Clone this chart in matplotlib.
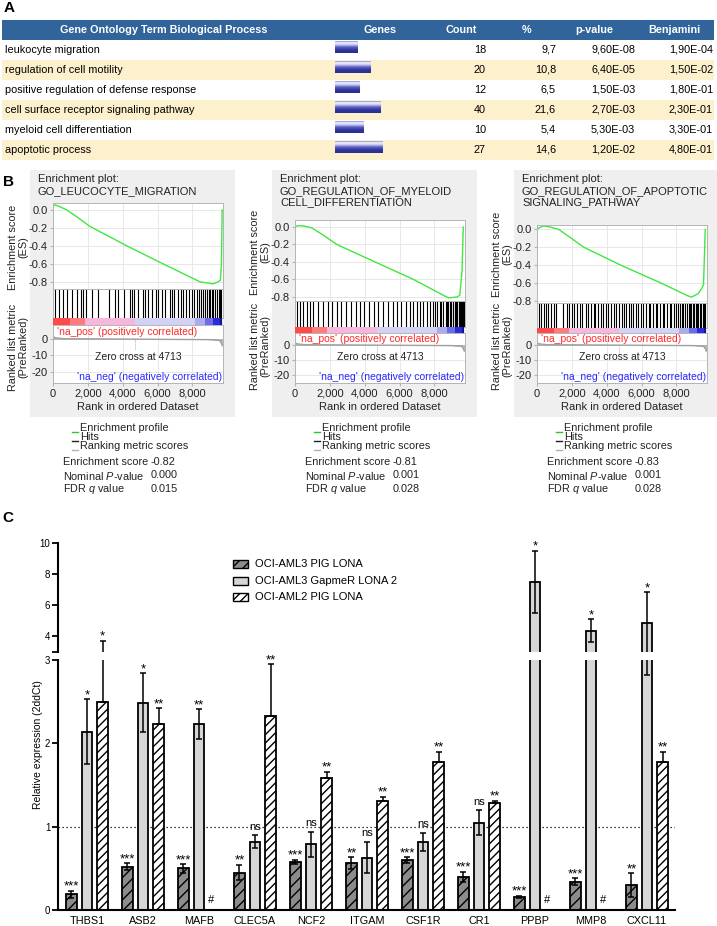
import numpy as np
import matplotlib
matplotlib.use('Agg')
import matplotlib.pyplot as plt
from matplotlib.patches import Rectangle
from matplotlib.colors import LinearSegmentedColormap
from matplotlib.ticker import FuncFormatter

W, H = 717, 926
SANS = ['Liberation Sans', 'DejaVu Sans']
plt.rcParams['font.family'] = SANS
plt.rcParams['axes.unicode_minus'] = False
plt.rcParams['mathtext.fontset'] = 'custom'
plt.rcParams['mathtext.it'] = 'Liberation Sans:italic'
plt.rcParams['mathtext.rm'] = 'Liberation Sans'
plt.rcParams['hatch.linewidth'] = 1.0

# ---------------- Panel A data ----------------
table_headers = ['Gene Ontology Term Biological Process', 'Genes', 'Count', '%', 'p-value', 'Benjamini']
go_terms = ['leukocyte migration', 'regulation of cell motility', 'positive regulation of defense response',
            'cell surface receptor signaling pathway', 'myeloid cell differentiation', 'apoptotic process']
go_count = [18, 20, 12, 40, 10, 27]
go_percent = ['9,7', '10,8', '6,5', '21,6', '5,4', '14,6']
go_pvalue = ['9,60E-08', '6,40E-05', '1,50E-03', '2,70E-03', '5,30E-03', '1,20E-02']
go_benjamini = ['1,90E-04', '1,50E-02', '1,80E-01', '2,30E-01', '3,30E-01', '4,80E-01']
go_gene_bar = [0.46, 0.75, 0.52, 0.94, 0.60, 1.00]

# ---------------- Panel B data ----------------
gsea_titles = ['GO_LEUCOCYTE_MIGRATION', 'GO_REGULATION_OF_MYELOID\nCELL_DIFFERENTIATION',
               'GO_REGULATION_OF_APOPTOTIC\nSIGNALING_PATHWAY']
es_rank = [
    [0, 40, 300, 800, 1400, 2100, 4250, 6330, 8450, 9000, 9200, 9450, 9600, 9660, 9700],
    [0, 150, 500, 960, 1600, 2400, 4600, 6800, 8500, 8800, 9300, 9450, 9580, 9650],
    [0, 150, 390, 700, 1250, 1900, 2690, 4800, 7100, 8600, 8850, 9250, 9450, 9550, 9650],
]
es_value = [
    [0.0, 0.06, 0.045, 0.0, -0.08, -0.18, -0.4, -0.6, -0.8, -0.815, -0.82, -0.8, -0.78, -0.6, 0.0],
    [0.0, 0.015, 0.012, -0.01, -0.09, -0.2, -0.4, -0.6, -0.78, -0.81, -0.80, -0.78, -0.5, 0.0],
    [0.0, 0.02, 0.04, 0.03, 0.0, -0.09, -0.2, -0.4, -0.6, -0.74, -0.76, -0.72, -0.66, -0.62, 0.0],
]
hits = [
    [120, 330, 560, 790, 1080, 1380, 1600, 1720, 1900, 2250, 2600, 3200, 3550, 3700, 4100, 4400,
     4550, 4650, 4850, 5150, 5300, 5450, 5700, 5900, 6050, 6250, 6450, 6700, 6850, 6950, 7150,
     7350, 7450, 7600, 7800, 7950, 8100, 8250, 8400, 8480, 8600, 8700, 8850, 8920, 9000,
     9120, 9180, 9300, 9400, 9500, 9600, 9650],
    [135, 290, 480, 675, 870, 1060, 1300, 1600, 1880, 2130, 2420, 2610, 2900, 3190, 3480, 3735,
     3970, 4260, 4510, 4740, 5030, 5320, 5610, 5870, 6100, 6390, 6580, 6770, 6970, 7160, 7350,
     7550, 7740, 7930, 8050, 8130, 8320, 8400, 8510, 8650, 8700, 8800, 8880, 8960, 9040, 9090,
     9190, 9240, 9290, 9380, 9430, 9480, 9530, 9580, 9620, 9670],
    [100, 250, 400, 520, 650, 800, 950, 1100, 1500, 1700, 1850, 2000, 2150, 2300, 2450, 2600,
     2800, 2950, 3100, 3250, 3350, 3500, 3650, 3800, 3950, 4100, 4250, 4400, 4550, 4700, 4850,
     5000, 5100, 5250, 5400, 5500, 5650, 5800, 5950, 6100, 6250, 6400, 6500, 6650, 6800, 6900,
     7050, 7200, 7300, 7450, 7600, 7700, 7850, 8000, 8100, 8200, 8300, 8400, 8500, 8600, 8700,
     8780, 8860, 8940, 9020, 9100, 9180, 9260, 9340, 9420, 9500, 9580, 9650],
]
rank_x = [0, 150, 600, 4713, 9000, 9550, 9650, 9700]
rank_y = [1.5, 0.8, 0.3, 0.0, -0.3, -0.8, -2.5, -4.0]
zero_cross = 4713
cbar_edges = [0, 960, 1820, 4713, 8140, 8700, 9200, 9600, 9700]
cbar_colors = ['#ff4a4a', '#ff7a7a', '#f7b6dc', '#d2d2f6', '#ababf0', '#6c6cea', '#2d2dd8', '#12129c']
stat_names = ['Enrichment score', 'Nominal $\\mathit{P}$-value', 'FDR $\\mathit{q}$ value']
stat_values = [['-0.82', '0.000', '0.015'], ['-0.81', '0.001', '0.028'], ['-0.83', '0.001', '0.028']]
legend_names = ['Enrichment profile', 'Hits', 'Ranking metric scores']

# ---------------- Panel C data ----------------
genes = ['THBS1', 'ASB2', 'MAFB', 'CLEC5A', 'NCF2', 'ITGAM', 'CSF1R', 'CR1', 'PPBP', 'MMP8', 'CXCL11']
series_names = ['OCI-AML3 PIG LONA', 'OCI-AML3 GapmeR LONA 2', 'OCI-AML2 PIG LONA']
pig3 = [0.19, 0.52, 0.50, 0.45, 0.58, 0.565, 0.60, 0.40, 0.155, 0.34, 0.30]
pig3_err = [0.04, 0.04, 0.05, 0.09, 0.025, 0.07, 0.035, 0.06, 0.015, 0.04, 0.14]
pig3_sig = ['***', '***', '***', '**', '***', '**', '***', '***', '***', '***', '**']
gap3 = [2.14, 2.49, 2.23, 0.82, 0.79, 0.63, 0.82, 1.05, 7.5, 4.33, 4.82]
gap3_err = [0.39, 0.35, 0.18, 0.08, 0.15, 0.19, 0.11, 0.15, 2.0, 0.74, 2.0]
gap3_sig = ['*', '*', '**', 'ns', 'ns', 'ns', 'ns', 'ns', '*', '*', '*']
pig2 = [2.50, 2.23, np.nan, 2.33, 1.58, 1.31, 1.78, 1.28, np.nan, np.nan, 1.78]
pig2_err = [1.18, 0.19, np.nan, 0.62, 0.08, 0.05, 0.12, 0.03, np.nan, np.nan, 0.12]
pig2_sig = ['*', '**', '#', '**', '**', '**', '**', '**', '#', '#', '**']

# ======================================================================
fig = plt.figure(figsize=(W / 100, H / 100), dpi=100)


def box(x0, y0, x1, y1):
    return [x0 / W, 1 - y1 / H, (x1 - x0) / W, (y1 - y0) / H]


def ftext(xp, yp, s, **kw):
    return fig.text(xp / W, 1 - yp / H, s, **kw)


bg = fig.add_axes([0, 0, 1, 1], zorder=0)
bg.set_xlim(0, W)
bg.set_ylim(H, 0)
bg.axis('off')

# ---------------- Panel A ----------------
bg.text(9, 8, 'A', fontsize=11, fontweight='bold', ha='center', va='center')
hdr_top, hdr_h, row_h = 20, 20, 20
bg.add_patch(Rectangle((2, hdr_top), 712, hdr_h, fc='#30649a', ec='none'))
col_x = [164, 380, 461, 527, 594, 674]
for cx, h in zip(col_x, table_headers):
    bg.text(cx, hdr_top + hdr_h / 2, h, color='white', fontweight='bold', ha='center', va='center',
            fontsize=7.8)
grad_cmap = LinearSegmentedColormap.from_list(
    'g', [(0, '#8a8fd8'), (0.12, '#f4f4fc'), (0.3, '#c9cbf0'), (0.5, '#5a60c4'), (0.75, '#2e3499'), (1, '#2a3090')])
grad = np.linspace(0, 1, 32).reshape(-1, 1)
for i, term in enumerate(go_terms):
    y0 = hdr_top + hdr_h + i * row_h
    if i % 2 == 1:
        bg.add_patch(Rectangle((2, y0), 712, row_h, fc='#fdf0cd', ec='none', zorder=1))
    yc = y0 + row_h / 2
    bg.text(5, yc, term, ha='left', va='center', fontsize=7.8)
    bg.imshow(grad, extent=(335, 335 + go_gene_bar[i] * 48, y0 + 13, y0 + 1), cmap=grad_cmap,
              aspect='auto', interpolation='bilinear', zorder=3)
    bg.text(486, yc, str(go_count[i]), ha='right', va='center', fontsize=7.8)
    bg.text(556, yc, go_percent[i], ha='right', va='center', fontsize=7.8)
    bg.text(635, yc, go_pvalue[i], ha='right', va='center', fontsize=7.8)
    bg.text(713, yc, go_benjamini[i], ha='right', va='center', fontsize=7.8)
bg.set_xlim(0, W)
bg.set_ylim(H, 0)

# ---------------- Panel B ----------------
bg.text(9, 182, 'B', fontsize=11, fontweight='bold', ha='center', va='center')
axL = [53, 295, 537]
axW = 170
es_top = [203, 220, 225]
es_bot = [289, 301, 303]
hit_bot = [318, 327, 328]
cb_bot = [325, 333, 333]
rk_bot = 383
es_lims = [(-0.878, 0.078), (-0.846, 0.08), (-0.825, 0.05)]
rk_lims = [(-26.7, 8.5), (-25.3, 8.0), (-25.3, 8.0)]
napos_y = [332, 339, 339]
es_lab_y = [247, 252, 254]
rk_lab_y = [347, 346, 346]
XMAX = 9750
GRID = '#e4e4e4'
SP = '#b5b5b5'
TXT = '#222222'
for p in range(3):
    L = axL[p]
    R = L + axW
    ox = L - 53
    bg.add_patch(Rectangle((L - 23, 170), axW + 35, 247, fc='#efefef', ec='none', zorder=0))
    bg.text(L - 15, 179, 'Enrichment plot:', ha='left', va='center', fontsize=8, color=TXT)
    bg.text(L - 15, 186, gsea_titles[p], ha='left', va='top', fontsize=8, color=TXT, linespacing=1.15)

    # ES axes
    ax = fig.add_axes(box(L, es_top[p], R, es_bot[p]), zorder=2)
    ax.plot(es_rank[p], es_value[p], color='#3ee83e', lw=1.0)
    ax.set_xlim(0, XMAX)
    ax.set_ylim(*es_lims[p])
    ax.set_yticks([0.0, -0.2, -0.4, -0.6, -0.8])
    ax.yaxis.set_major_formatter(FuncFormatter(lambda v, _: f'{v:.1f}' if abs(v) > 1e-9 else '0.0'))
    ax.set_xticks([0, 2000, 4000, 6000, 8000])
    ax.tick_params(axis='x', length=0, labelbottom=False)
    ax.tick_params(axis='y', length=2, color=SP, labelsize=8, labelcolor=TXT, pad=2)
    ax.grid(True, color=GRID, lw=0.6)
    ax.set_axisbelow(True)
    for s in ax.spines.values():
        s.set_color(SP)
        s.set_linewidth(0.7)

    # hits axes
    axh = fig.add_axes(box(L, es_bot[p], R, hit_bot[p]), zorder=2)
    axh.vlines(hits[p], 0, 1, color='black', lw=0.8)
    axh.set_xlim(0, XMAX)
    axh.set_ylim(0, 1)
    axh.set_xticks([])
    axh.set_yticks([])
    for s in axh.spines.values():
        s.set_color(SP)
        s.set_linewidth(0.7)

    # colour bar
    axc = fig.add_axes(box(L, hit_bot[p], R, cb_bot[p]), zorder=2)
    for a, b, c in zip(cbar_edges[:-1], cbar_edges[1:], cbar_colors):
        axc.axvspan(a, b, color=c, lw=0)
    axc.set_xlim(0, XMAX)
    axc.set_ylim(0, 1)
    axc.axis('off')

    # ranked list axes
    axr = fig.add_axes(box(L, cb_bot[p], R, rk_bot), zorder=2)
    axr.fill_between(rank_x, 0, rank_y, color='#b0b0b0', lw=0.6)
    axr.plot(rank_x, rank_y, color='#a0a0a0', lw=0.8)
    axr.vlines(zero_cross, -6, 0, color='#909090', lw=0.6, linestyles=(0, (1, 1.5)))
    axr.set_xlim(0, XMAX)
    axr.set_ylim(*rk_lims[p])
    axr.set_yticks([0, -10, -20])
    axr.set_xticks([0, 2000, 4000, 6000, 8000])
    axr.xaxis.set_major_formatter(FuncFormatter(lambda v, _: f'{int(v):,}'))
    axr.tick_params(axis='both', length=2, color=SP, labelsize=8, labelcolor=TXT, pad=2)
    axr.grid(True, color=GRID, lw=0.6)
    axr.set_axisbelow(True)
    for s in axr.spines.values():
        s.set_color(SP)
        s.set_linewidth(0.7)

    ftext(L + 4, napos_y[p], "'na_pos' (positively correlated)", color='#ff2a2a', fontsize=7.5,
          ha='left', va='center', zorder=5)
    ftext(L + 85, 357, 'Zero cross at 4713', fontsize=7.5, ha='center', va='center', color=TXT, zorder=5)
    ftext(R - 1, 377, "'na_neg' (negatively correlated)", color='#2a2aff', fontsize=7.5,
          ha='right', va='center', zorder=5)
    bg.text(L + axW / 2, 407, 'Rank in ordered Dataset', fontsize=8, ha='center', va='center', color=TXT)
    bg.text(L - 35, es_lab_y[p], 'Enrichment score\n(ES)', rotation=90, fontsize=7.8,
            ha='center', va='center', multialignment='center', color=TXT, linespacing=1.0)
    bg.text(L - 35, rk_lab_y[p], 'Ranked list metric\n(PreRanked)', rotation=90, fontsize=7.8,
            ha='center', va='center', multialignment='center', color=TXT, linespacing=1.0)

    # legend + stats
    leg_cols = ['#22cc22', '#222222', '#b0b0b0']
    for k, (nm, lc) in enumerate(zip(legend_names, leg_cols)):
        yy = 428 + 9 * k
        bg.plot([72 + ox, 78 + ox], [yy + 3.5, yy + 3.5], color=lc, lw=1.0)
        bg.text(80 + ox, yy, nm, fontsize=7.8, ha='left', va='center', color=TXT)
    for k in range(3):
        yy = 462 + 13.5 * k
        bg.text(63 + ox, yy, stat_names[k], fontsize=7.8, ha='left', va='center', color=TXT)
        bg.text(151 + ox, yy, stat_values[p][k], fontsize=7.8, ha='left', va='center', color=TXT)

# ---------------- Panel C ----------------
bg.text(8, 518, 'C', fontsize=11, fontweight='bold', ha='center', va='center')
axU = fig.add_axes(box(58, 543, 675, 651.5), zorder=2)
axLo = fig.add_axes(box(58, 660, 675, 910), zorder=2)
for a in (axU, axLo):
    a.patch.set_alpha(0)
x = np.arange(len(genes))
off, bw = 0.277, 0.196
pig3_a, gap3_a, pig2_a = np.array(pig3), np.array(gap3), np.array(pig2)
e1, e2, e3 = np.array(pig3_err), np.array(gap3_err), np.array(pig2_err)
LW = 1.3
for ax in (axU, axLo):
    upper = ax is axU
    ax.bar(x - off, pig3_a, bw, color='#8c8c8c', edgecolor='black', hatch='///', lw=LW, zorder=2)
    ax.bar(x, gap3_a, bw, color='#d6d6d6', edgecolor='black', lw=LW, zorder=2)
    ax.bar(x + off, np.nan_to_num(pig2_a), bw, color='white', edgecolor='black', hatch='////', lw=LW, zorder=2)
    for xs, v, e, sym in ((x - off, pig3_a, e1, True), (x, gap3_a, e2, True), (x + off, pig2_a, e3, False)):
        vv = np.where((v + e > 3.0) | (not upper), v, np.nan)
        lo = e if sym else np.zeros_like(e)
        ax.errorbar(xs, vv, yerr=[lo, e], fmt='none', ecolor='black', elinewidth=1.1,
                    capsize=2.5, capthick=1.1, zorder=3)
    ax.set_xlim(-0.518, 10.5)

axU.set_ylim(3, 10)
axU.set_yticks([3, 4, 6, 8, 10])
axU.set_yticklabels(['', '4', '6', '8', '10'])
axU.set_xticks([])
for s in ['top', 'right', 'bottom']:
    axU.spines[s].set_visible(False)
axU.spines['left'].set_linewidth(1.5)
axU.tick_params(axis='y', length=4, width=1.3, labelsize=7, pad=1.5)

axLo.set_ylim(0, 3)
axLo.set_yticks([0, 1, 2, 3])
axLo.set_xticks(x)
axLo.set_xticklabels(genes, fontsize=7.8)
axLo.tick_params(axis='x', length=0, pad=4)
axLo.tick_params(axis='y', length=4, width=1.3, labelsize=7, pad=1.5)
for s in ['top', 'right']:
    axLo.spines[s].set_visible(False)
axLo.spines['left'].set_linewidth(1.5)
axLo.spines['bottom'].set_linewidth(1.5)
axLo.axhline(1, color='black', lw=0.9, ls=(0, (1, 2.2)), zorder=0.5)


def sig_label(xpos, top, s):
    ax = axU if top > 3 else axLo
    if s == 'ns':
        ax.annotate(s, (xpos, top), xytext=(0, 3.8), textcoords='offset points', ha='center',
                    va='baseline', fontsize=8, annotation_clip=False, zorder=6)
    else:
        ax.annotate(s, (xpos, top), xytext=(0, 0.8), textcoords='offset points', ha='center',
                    va='baseline', fontsize=9.5, annotation_clip=False, zorder=6)


for i in range(len(genes)):
    sig_label(x[i] - off, pig3[i] + pig3_err[i], pig3_sig[i])
    sig_label(x[i], gap3[i] + gap3_err[i], gap3_sig[i])
    if np.isnan(pig2[i]):
        axLo.text(x[i] + off - 0.06, 0.08, pig2_sig[i], ha='center', va='baseline', fontsize=8)
    else:
        sig_label(x[i] + off, pig2[i] + pig2_err[i], pig2_sig[i])

bg.text(38, 745, 'Relative expression (2ddCt)', rotation=90, fontsize=7.5, ha='center', va='center')

leg_styles = [dict(fc='#8c8c8c', hatch='///'), dict(fc='#d6d6d6', hatch=None), dict(fc='white', hatch='////')]
for k, (nm, st) in enumerate(zip(series_names, leg_styles)):
    yy = 564 + 16.5 * k
    bg.add_patch(Rectangle((233, yy - 4), 15, 8, ec='black', lw=1.0, **st))
    bg.text(255, yy, nm, fontsize=8, ha='left', va='center')

fig.savefig('out.png', dpi=100)
